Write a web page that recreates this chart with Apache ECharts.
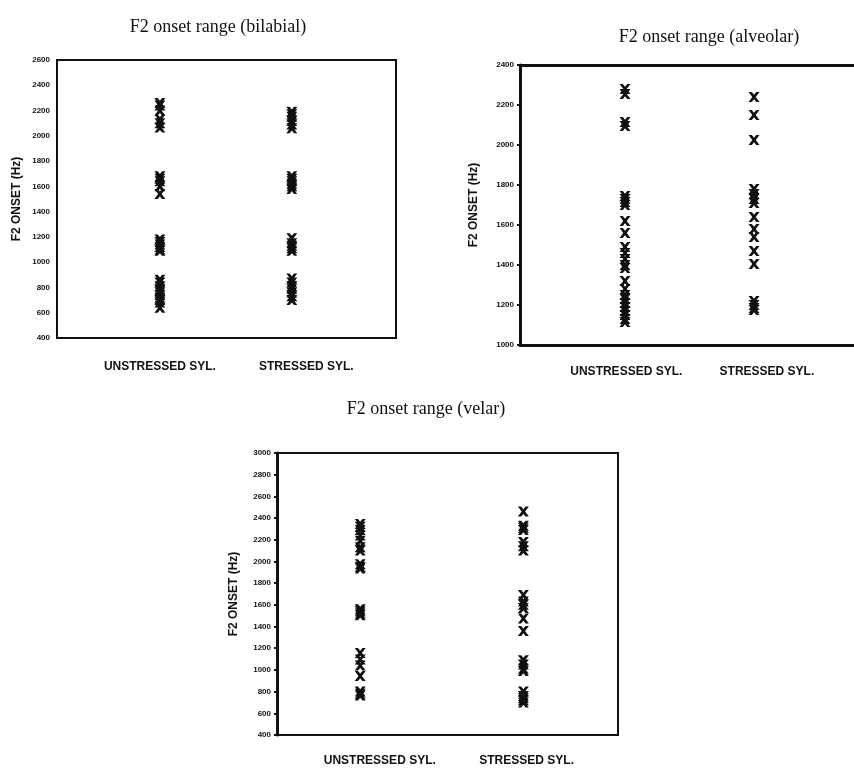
<!DOCTYPE html>
<html>
<head>
<meta charset="utf-8">
<script src="https://cdn.jsdelivr.net/npm/echarts@6/dist/echarts.min.js"></script>
<style>
html,body{margin:0;padding:0;background:#fff;}
#c{width:854px;height:768px;}
</style>
</head>
<body>
<div id="c"></div>
<script>
// ---- data ----
var categories = ['UNSTRESSED SYL.', 'STRESSED SYL.'];
var titles = ['F2 onset range (bilabial)', 'F2 onset range (alveolar)', 'F2 onset range (velar)'];
var yName = 'F2 ONSET (Hz)';

var bilabialUnstressed = [2260, 2240, 2200, 2130, 2100, 2065, 1680, 1660, 1640, 1600, 1540, 1180, 1160, 1140, 1120, 1100, 1090, 860, 840, 810, 780, 760, 740, 720, 700, 680, 640];
var bilabialStressed = [2190, 2170, 2150, 2120, 2090, 2060, 1680, 1660, 1640, 1620, 1600, 1580, 1190, 1150, 1130, 1110, 1090, 870, 840, 810, 790, 760, 730, 700];
var alveolarUnstressed = [2280, 2255, 2115, 2095, 1745, 1730, 1715, 1700, 1620, 1560, 1490, 1460, 1430, 1400, 1385, 1320, 1280, 1250, 1230, 1210, 1190, 1170, 1150, 1130, 1115];
var alveolarStressed = [2240, 2150, 2025, 1780, 1755, 1730, 1710, 1640, 1580, 1540, 1470, 1405, 1220, 1200, 1185, 1175];
var velarUnstressed = [2345, 2320, 2290, 2240, 2190, 2130, 2100, 1975, 1950, 1935, 1560, 1540, 1520, 1505, 1155, 1095, 1040, 945, 800, 780, 765];
var velarStressed = [2460, 2330, 2310, 2290, 2180, 2140, 2100, 1690, 1630, 1600, 1570, 1475, 1360, 1090, 1050, 1010, 990, 800, 760, 740, 720, 700];

var yRanges = [[400, 2600], [1000, 2400], [400, 3000]];

// ---- layout ----
var grids = [
  {left: 57, right: 458, top: 60, bottom: 430, show: true},
  {left: 520, right: 0, top: 65, bottom: 423, show: false},
  {left: 277, right: 236, top: 453, bottom: 33, show: true}
];
var xRanges = [[0.22, 2.79], [0.186, 2.775], [0.49, 2.58]];
var labelPos = [[1.0, 2.11], [1.01, 2.1], [1.12, 2.02]];
var labelMargin = [23, 21, 20];
var titlePos = [{x: 213, y: 22}, {x: 704, y: 32}, {x: 421, y: 404}];
var nameGaps = [34, 40, 37];

var XPATH = 'path://M0,0 L3.6,0 L6,3.2 L8.4,0 L12,0 L7.9,6 L12,12 L8.4,12 L6,8.8 L3.6,12 L0,12 L4.1,6 Z';

var groups = [
  [bilabialUnstressed, bilabialStressed],
  [alveolarUnstressed, alveolarStressed],
  [velarUnstressed, velarStressed]
];

var xAxes = grids.map(function (g, i) {
  return {
    type: 'value', gridIndex: i, min: xRanges[i][0], max: xRanges[i][1],
    splitLine: {show: false},
    axisLine: {show: i === 1, onZero: false, lineStyle: {color: '#111', width: 3}},
    axisTick: {show: false},
    axisLabel: {
      customValues: labelPos[i], margin: labelMargin[i],
      formatter: function (v) { return Math.abs(v - labelPos[i][0]) < 1e-6 ? categories[0] : categories[1]; },
      fontFamily: 'Liberation Sans', fontSize: 12, fontWeight: 'bold', color: '#111'
    }
  };
});
// top border line of the alveolar panel (its box runs off the right edge)
xAxes.push({
  type: 'value', gridIndex: 1, position: 'top', min: xRanges[1][0], max: xRanges[1][1],
  splitLine: {show: false}, axisTick: {show: false}, axisLabel: {show: false},
  axisLine: {show: true, onZero: false, lineStyle: {color: '#111', width: 3}}
});

var option = {
  backgroundColor: '#fff',
  animation: false,
  title: titles.map(function (t, i) {
    return {
      text: t, left: titlePos[i].x, top: titlePos[i].y, textAlign: 'center', textVerticalAlign: 'middle',
      textStyle: {fontFamily: 'Liberation Serif', fontSize: 18, fontWeight: 'normal', color: '#111'}
    };
  }),
  grid: grids.map(function (g) {
    return Object.assign({borderColor: '#111', borderWidth: 2, backgroundColor: 'transparent'}, g);
  }),
  xAxis: xAxes,
  yAxis: grids.map(function (g, i) {
    return {
      type: 'value', gridIndex: i, min: yRanges[i][0], max: yRanges[i][1], interval: 200,
      name: yName, nameLocation: 'middle', nameRotate: 90, nameGap: nameGaps[i],
      nameTextStyle: {fontFamily: 'Liberation Sans', fontSize: 12, fontWeight: 'bold', color: '#111'},
      splitLine: {show: false},
      axisLine: {show: i > 0, lineStyle: {color: '#111', width: 3}},
      axisTick: {show: i > 0, length: 3, lineStyle: {color: '#111', width: 2}},
      axisLabel: {
        formatter: function (v) { return String(v); },
        fontFamily: 'Liberation Sans', fontSize: 8, fontWeight: 'bold', color: '#111', margin: i > 0 ? 6 : 7
      }
    };
  }),
  series: []
};

groups.forEach(function (pair, gi) {
  pair.forEach(function (vals, ci) {
    option.series.push({
      type: 'scatter', xAxisIndex: gi, yAxisIndex: gi,
      symbol: XPATH, symbolSize: [11, 10],
      itemStyle: {color: '#111', opacity: 1},
      data: vals.map(function (v) { return [ci + 1, v]; })
    });
  });
});

var chart = echarts.init(document.getElementById('c'), null, {renderer: 'canvas'});
chart.setOption(option);
</script>
</body>
</html>
